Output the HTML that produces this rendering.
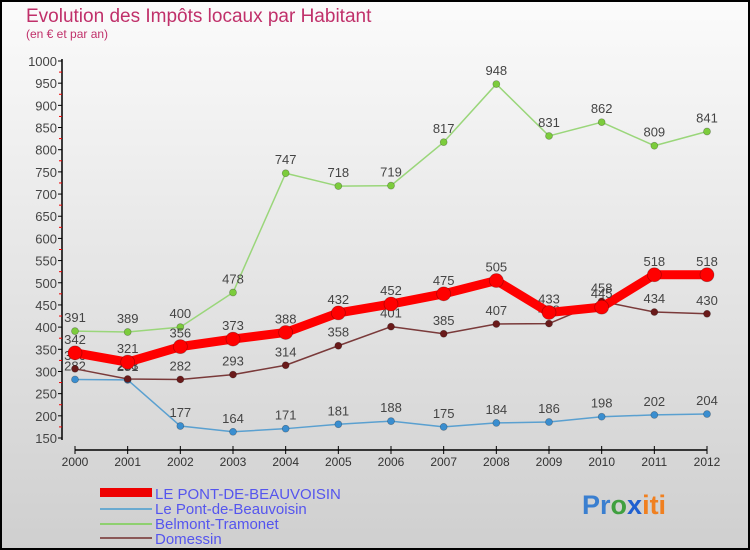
<!DOCTYPE html>
<html><head><meta charset="utf-8"><style>
body{margin:0;width:750px;height:550px;overflow:hidden;font-family:"Liberation Sans",sans-serif}
svg{display:block}
</style></head><body>
<svg id="chart" width="750" height="550" xmlns="http://www.w3.org/2000/svg">
<defs><linearGradient id="bg" x1="0" y1="0" x2="0" y2="1"><stop offset="0" stop-color="#fbfbfb"/><stop offset="1" stop-color="#cfcfcf"/></linearGradient></defs>
<rect x="1" y="1" width="748" height="548" fill="url(#bg)" stroke="#000" stroke-width="2"/>
<text x="26" y="22" font-size="19" fill="#c0306a">Evolution des Impôts locaux par Habitant</text>
<text x="26" y="38" font-size="12" fill="#c0306a">(en € et par an)</text>
<g id="axes"></g><g id="series"></g>
<g>
<rect x="100" y="488" width="52" height="9" fill="#e00"/>
<line x1="100" y1="509" x2="152" y2="509" stroke="#6aaad0" stroke-width="2"/>
<line x1="100" y1="524" x2="152" y2="524" stroke="#8ed070" stroke-width="2"/>
<line x1="100" y1="538" x2="152" y2="538" stroke="#8a5858" stroke-width="2"/>
<text x="155" y="499" font-size="15" fill="#5555ee">LE PONT-DE-BEAUVOISIN</text>
<text x="155" y="514" font-size="15" fill="#5555ee">Le Pont-de-Beauvoisin</text>
<text x="155" y="529" font-size="15" fill="#5555ee">Belmont-Tramonet</text>
<text x="155" y="544" font-size="15" fill="#5555ee">Domessin</text>
</g>
<text x="582" y="514" font-size="27" font-weight="bold"><tspan fill="#3a7fd0">Pr</tspan><tspan fill="#40a040">o</tspan><tspan fill="#2060d0">x</tspan><tspan fill="#f08020">iti</tspan></text>
</svg>
<script>
const years=[2000,2001,2002,2003,2004,2005,2006,2007,2008,2009,2010,2011,2012];
const yTicks=[150,200,250,300,350,400,450,500,550,600,650,700,750,800,850,900,950,1000];
const mainVals=[342,321,356,373,388,432,452,475,505,433,445,518,518];
const pontVals=[282,281,177,164,171,181,188,175,184,186,198,202,204];
const belmontVals=[391,389,400,478,747,718,719,817,948,831,862,809,841];
const domessinVals=[306,283,282,293,314,358,401,385,407,408,458,434,430];
const NS="http://www.w3.org/2000/svg";
const X=i=>75+i*(707-75)/12;
const Y=v=>438-(v-150)*(438-61)/850;
function mk(tag,attrs,parent,txt){const e=document.createElementNS(NS,tag);for(const k in attrs)e.setAttribute(k,attrs[k]);if(txt!==undefined)e.textContent=txt;parent.appendChild(e);return e;}
const ax=document.getElementById('axes');
const yl=mk('line',{x1:62,y1:59,x2:62,y2:440,stroke:'#000','stroke-width':1.5},ax);


const xl=mk('line',{x1:75,y1:450,x2:707,y2:450,stroke:'#000','stroke-width':1.5},ax);


yTicks.forEach(t=>{
  const tk=mk('line',{x1:58,y1:Y(t),x2:62,y2:Y(t),stroke:'#000'},ax);
  
  
  const lb=mk('text',{x:57,y:Y(t)+5,'font-size':13,'text-anchor':'end',fill:'#444'},ax,String(t));
  
  
  if(t<1000){const m=mk('line',{x1:59,y1:Y(t+25),x2:62,y2:Y(t+25),stroke:'#e00'},ax);
  
  }
});
years.forEach((yr,i)=>{
  const tk=mk('line',{x1:X(i),y1:446,x2:X(i),y2:454,stroke:'#000'},ax);
  
  
  const lb=mk('text',{x:X(i),y:466,'font-size':12,'text-anchor':'middle',fill:'#333'},ax,String(yr));
  
  
});
const sg=document.getElementById('series');
function series(vals,name,color,dot,w,r){
  const g=mk('g',{},sg);
  
  
  const p=mk('polyline',{points:vals.map((v,i)=>X(i)+','+Y(v)).join(' '),fill:'none',stroke:color,'stroke-width':w,'stroke-linejoin':'round'},g);
  
  
  vals.forEach((v,i)=>{
    const c=mk('circle',{cx:X(i),cy:Y(v),r:r,fill:dot,stroke:'rgba(0,0,0,0.3)','stroke-width':0.7},g);
    
    
    const t=mk('text',{x:X(i),y:Y(v)-9,'font-size':13,'text-anchor':'middle',fill:'#444'},g,String(v));
    
    
  });
}
series(belmontVals,'belmont','#9ad67a','#7ccc3c',1.5,3.5);
series(pontVals,'pont','#5aa0d0','#3a8ed0',1.5,3.5);
series(domessinVals,'domessin','#7a3a3a','#6a1a1a',1.5,3.5);
series(mainVals,'main','#f00','#f00',9,7);
</script>
</body></html>
